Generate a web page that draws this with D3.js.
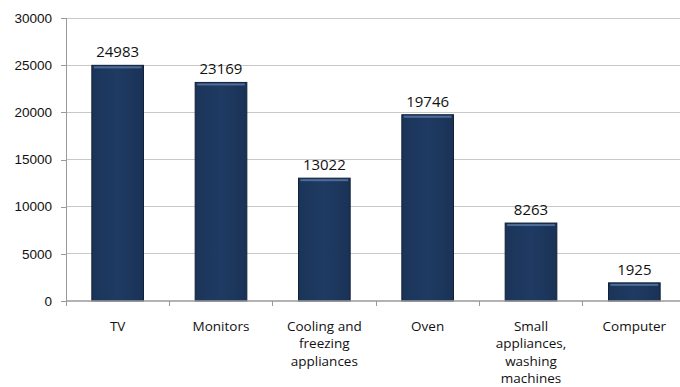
<!DOCTYPE html>
<html>
<head>
<meta charset="utf-8">
<script src="https://cdn.jsdelivr.net/npm/d3@7"></script>
<style>
  html, body { margin: 0; padding: 0; background: #fff; }
  svg { display: block; font-family: "Open Sans", "Liberation Sans", sans-serif; }
</style>
</head>
<body>
<svg id="chart" width="680" height="387"></svg>
<script>
const categories = ["TV", "Monitors", "Cooling and freezing appliances", "Oven", "Small appliances, washing machines", "Computer"];
const categoryLines = [["TV"], ["Monitors"], ["Cooling and", "freezing", "appliances"], ["Oven"], ["Small", "appliances,", "washing", "machines"], ["Computer"]];
const values = [24983, 23169, 13022, 19746, 8263, 1925];
const yTicks = [0, 5000, 10000, 15000, 20000, 25000, 30000];

const svg = d3.select("#chart");
const margin = { left: 66, top: 18, bottom: 86 };
const plotW = 620, plotH = 387 - margin.top - margin.bottom;

const x = d3.scaleBand().domain(categories).range([margin.left, margin.left + plotW]).paddingInner(0.5).paddingOuter(0.25);
const y = d3.scaleLinear().domain([0, 30000]).range([margin.top + plotH, margin.top]);

const defs = svg.append("defs");
const grad = defs.append("linearGradient").attr("id", "barFill").attr("x1", 0).attr("x2", 1).attr("y1", 0).attr("y2", 0);
grad.append("stop").attr("offset", "0%").attr("stop-color", "#1b3459");
grad.append("stop").attr("offset", "50%").attr("stop-color", "#1f3b63");
grad.append("stop").attr("offset", "100%").attr("stop-color", "#1a3256");

// horizontal gridlines
svg.append("g")
  .selectAll("line").data(yTicks.filter(d => d > 0)).join("line")
  .attr("x1", margin.left).attr("x2", margin.left + plotW)
  .attr("y1", d => y(d)).attr("y2", d => y(d))
  .attr("stroke", "#c8c8c8").attr("stroke-width", 1).attr("shape-rendering", "crispEdges");

// y axis
const yAxis = svg.append("g").attr("transform", `translate(${margin.left},0)`)
  .call(d3.axisLeft(y).tickValues(yTicks).tickSize(5).tickPadding(9).tickFormat(d3.format("d")));
yAxis.select(".domain").attr("stroke", "#9a9a9a").attr("shape-rendering", "crispEdges");
yAxis.selectAll(".tick line").attr("stroke", "#9a9a9a").attr("shape-rendering", "crispEdges");
yAxis.selectAll("text").attr("font-size", 13.5).attr("fill", "#111");

// bars
const bars = svg.append("g").selectAll("g").data(categories).join("g");
bars.append("rect")
  .attr("x", d => x(d)).attr("width", x.bandwidth())
  .attr("y", (d, i) => y(values[i])).attr("height", (d, i) => y(0) - y(values[i]))
  .attr("fill", "url(#barFill)").attr("stroke", "#0f2038").attr("stroke-width", 1);
bars.append("rect")
  .attr("x", d => x(d) + 2).attr("width", x.bandwidth() - 4)
  .attr("y", (d, i) => y(values[i]) + 1).attr("height", 2)
  .attr("fill", "#5a7aa6").attr("opacity", 0.8);

// value labels
svg.append("g").selectAll("text").data(categories).join("text")
  .attr("x", d => x(d) + x.bandwidth() / 2)
  .attr("y", (d, i) => y(values[i]) - 8)
  .attr("text-anchor", "middle").attr("font-size", 15).attr("fill", "#111")
  .text((d, i) => values[i]);

// x axis
const base = y(0);
svg.append("line").attr("x1", margin.left).attr("x2", margin.left + plotW)
  .attr("y1", base).attr("y2", base).attr("stroke", "#9a9a9a").attr("stroke-width", 1.5);
const bandStarts = categories.map((d, i) => margin.left + i * plotW / categories.length);
svg.append("g").selectAll("line").data(bandStarts).join("line")
  .attr("x1", d => d).attr("x2", d => d).attr("y1", base).attr("y2", base + 5)
  .attr("stroke", "#9a9a9a").attr("shape-rendering", "crispEdges");

const labels = svg.append("g").selectAll("text").data(categories).join("text")
  .attr("x", d => x(d) + x.bandwidth() / 2)
  .attr("y", base + 30)
  .attr("text-anchor", "middle").attr("font-size", 13.5).attr("fill", "#111");
labels.each(function (d, i) {
  d3.select(this).selectAll("tspan").data(categoryLines[i]).join("tspan")
    .attr("x", x(d) + x.bandwidth() / 2)
    .attr("dy", (t, j) => j === 0 ? 0 : 17.3)
    .text(t => t);
});
</script>
</body>
</html>
